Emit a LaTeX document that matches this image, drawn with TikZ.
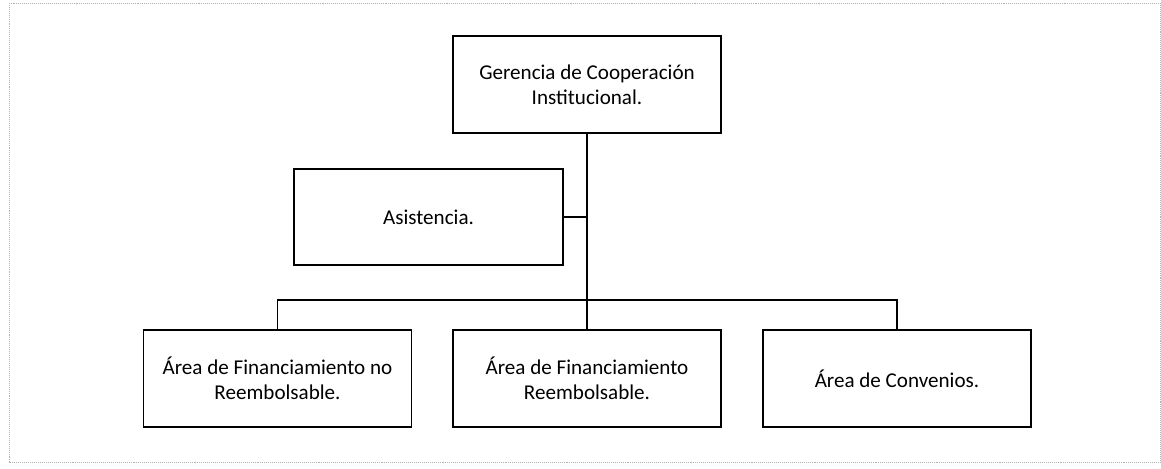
\documentclass[tikz,border=0pt]{standalone}
\usepackage{fontspec}
\setmainfont{Carlito}
\usepackage{tikz}
\usetikzlibrary{positioning}

\begin{document}
\begin{tikzpicture}[
  unit/.style={rectangle, draw, line width=1.3pt, minimum width=6.7cm, minimum height=2.425cm, align=center, font=\fontsize{15}{18}\selectfont},
  link/.style={line width=1.3pt}
]
% page frame
\useasboundingbox (0,0) rectangle (29.025,11.725);
\draw[gray!60, densely dotted, line width=0.4pt] (0.225,0.175) rectangle (29.0,11.65);

% Head
\node[unit] (ger) at (14.675, 9.6125) {Gerencia de Cooperación\\Institucional.};

% Staff
\node[unit, minimum width=6.725cm, minimum height=2.4cm] (asis) at (10.7125, 6.3) {Asistencia.};

% Areas
\node[unit] (fnr) at (6.9375, 2.2625) {Área de Financiamiento no\\Reembolsable.};
\node[unit] (fr) at (14.675, 2.2625) {Área de Financiamiento\\Reembolsable.};
\node[unit] (conv) at (22.425, 2.2625) {Área de Convenios.};

% Lines
\coordinate (bus) at (14.675, 4.225);
\draw[link] (ger.south) -- (fr.north);
\draw[link] (asis.east) -- (asis.east -| ger.south);
\draw[link] (fnr.north) |- (bus) -| (conv.north);

\end{tikzpicture}
\end{document}
